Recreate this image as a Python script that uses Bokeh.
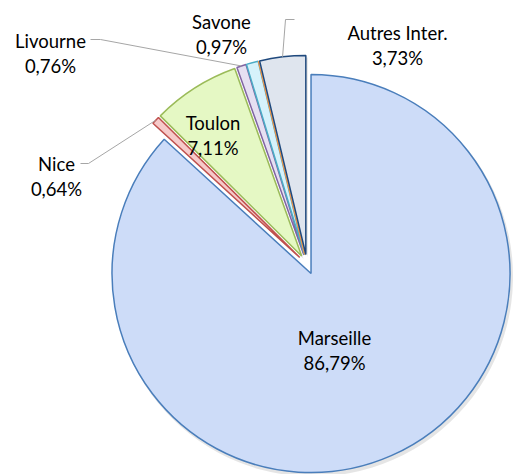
import numpy as np
from bokeh.plotting import figure
from bokeh.models import Range1d
from bokeh.core.properties import value
from bokeh.embed import file_html
from bokeh.resources import INLINE

# ---- data ----
categories = ["Marseille", "Nice", "Toulon", "Livourne", "Savone", "", "Autres Inter."]
shares = [86.79, 0.64, 7.11, 0.76, 0.97, 0.00, 3.73]

# ---- style ----
fills = ["#cddcf8", "#f6caca", "#e5f8c4", "#e6e0f2", "#d6f2fb", "#fbd5b5", "#dfe5ee"]
borders = ["#4a7ebb", "#c0504d", "#9bbb59", "#8064a2", "#4bacc6", "#f79646", "#1f497d"]

W, H = 514, 474
cx, cy = 306.5, H - 263.9   # pie centre (page px, y up)
R = 199.0
EXPLODE = 10.0
FONT = "Lato"
FS = "18.5px"

# label layout: (x centre, baseline of first line in page px) -- None = no label
label_pos = [(334, 337), (56, 163), (212.5, 122), (50, 40), (221, 21), None, (397, 32)]
LINE = 25
# leader lines: slice index -> list of page-px anchor points near the label
leaders = {3: [(90, 39), (100, 39)], 1: [(80, 163), (88, 163)], 6: [(294, 19), (285, 19)]}

p = figure(width=W, height=H, output_backend="svg", toolbar_location=None,
           x_range=Range1d(0, W), y_range=Range1d(0, H), min_border=0)
p.axis.visible = False
p.grid.visible = False
p.outline_line_color = None
p.background_fill_color = "white"

total = sum(shares)
cum = np.concatenate([[0], np.cumsum(shares)]) / total * 2 * np.pi  # clockwise from top
centres = []
for i, v in enumerate(shares):
    a, b = cum[i], cum[i + 1]
    mid = (a + b) / 2
    ox = cx + EXPLODE * np.sin(mid)
    oy = cy + EXPLODE * np.cos(mid)
    centres.append((ox, oy, mid))

# shadows
for i, v in enumerate(shares):
    ox, oy, mid = centres[i]
    a, b = cum[i], cum[i + 1]
    if v > 0:
        p.wedge(x=ox + 2, y=oy - 3, radius=R + 1, start_angle=np.pi / 2 - b,
                end_angle=np.pi / 2 - a, fill_color="#000000", fill_alpha=0.10,
                line_color=None)

for i, v in enumerate(shares):
    ox, oy, mid = centres[i]
    a, b = cum[i], cum[i + 1]
    if v > 0:
        p.wedge(x=ox, y=oy, radius=R, start_angle=np.pi / 2 - b, end_angle=np.pi / 2 - a,
                fill_color=fills[i], line_color=borders[i], line_width=1.5)
    else:
        p.segment(x0=ox, y0=oy, x1=ox + R * np.sin(a), y1=oy + R * np.cos(a),
                  line_color=borders[i], line_width=1.5)

# leader lines
for i, pts in leaders.items():
    ox, oy, mid = centres[i]
    ex, ey = ox + R * np.sin(mid), oy + R * np.cos(mid)
    xs = [q[0] for q in pts] + [ex]
    ys = [H - q[1] for q in pts] + [ey]
    p.line(xs, ys, line_color="#a6a6a6", line_width=1)

# labels
for i, v in enumerate(shares):
    if label_pos[i] is None:
        continue
    lx, lb = label_pos[i]
    pct = f"{v:.2f}".replace(".", ",") + "%"
    p.text(x=[lx, lx], y=[H - lb, H - lb - LINE], text=[categories[i], pct],
           text_align="center", text_baseline="alphabetic",
           text_font=value(FONT), text_font_size=FS, text_color="#000000")

open("out.html", "w").write(file_html(p, INLINE))
